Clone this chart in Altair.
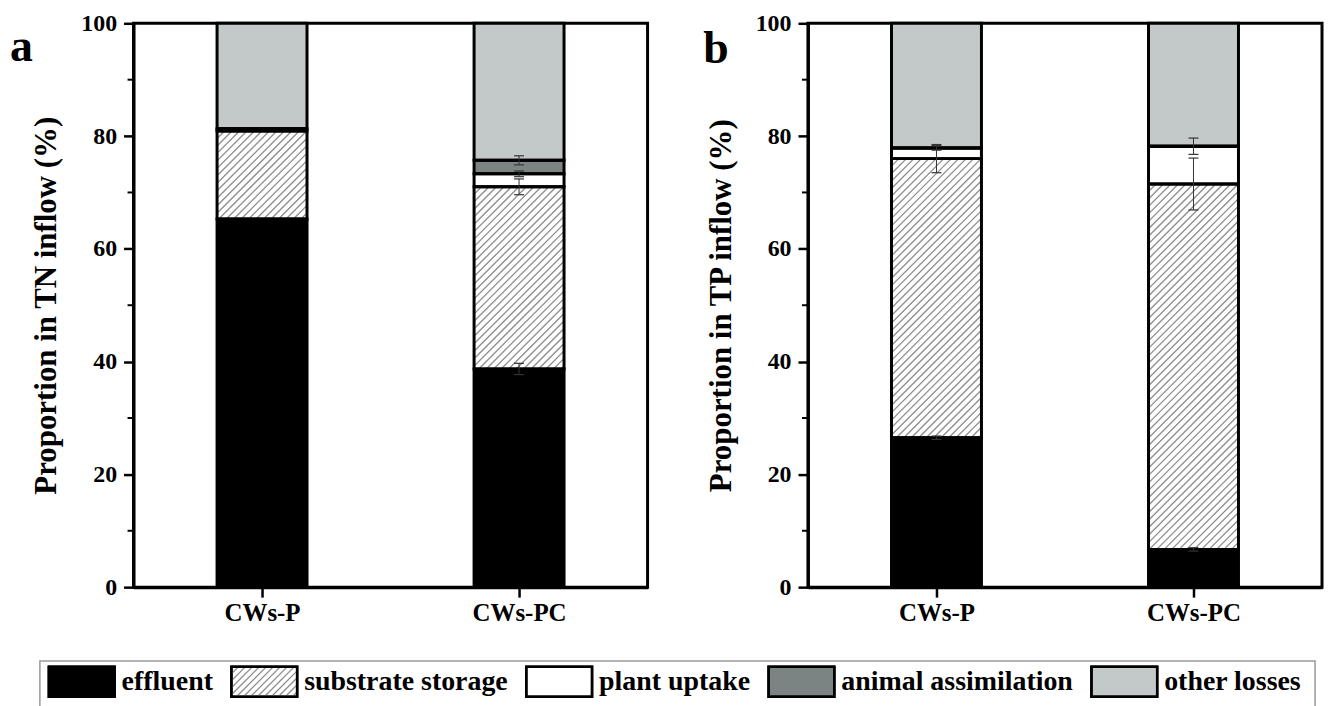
import altair as alt
import pandas as pd

categories = ["CWs-P", "CWs-PC"]
components = ["effluent", "substrate storage", "plant uptake", "animal assimilation", "other losses"]
fill_colors = ["#000000", "#ffffff", "#ffffff", "#7b8383", "#c3c9c9"]

# Panel a: proportion in TN inflow (%)
tn_effluent = [65.3, 38.7]
tn_substrate = [15.6, 32.3]
tn_plant = [0.4, 2.3]
tn_animal = [0.0, 2.4]
tn_other = [18.7, 24.3]
tn_effluent_err = [0.0, 1.0]
tn_substrate_err = [0.0, 1.4]
tn_plant_err = [0.0, 0.5]
tn_animal_err = [0.0, 0.8]

# Panel b: proportion in TP inflow (%)
tp_effluent = [26.5, 6.7]
tp_substrate = [49.5, 64.8]
tp_plant = [1.9, 6.7]
tp_animal = [0.0, 0.0]
tp_other = [22.1, 21.8]
tp_effluent_err = [0.3, 0.3]
tp_substrate_err = [2.5, 4.6]
tp_plant_err = [0.4, 1.45]
tp_animal_err = [0.0, 0.0]

y_ticks = [0, 20, 40, 60, 80, 100]
y_minor_ticks = [10, 30, 50, 70, 90]

FONT = "Liberation Serif"
W, H = 516, 566
HALF = 0.175          # half bar width in x units
PX_X = W / len(categories)
PX_Y = H / 100.0
HATCH_STEP = 7.5
CAP = 5.0 / PX_X

# ---------- legend geometry (style constants, in pixels relative to panel a's plot) ----------
LEG_W, LEG_H = 1186, 40
LEG_FONT = 28
BOX_W, BOX_H = 66, 30
BOX_TOP = 7
FRAME_X0 = -94
GAP_LABEL, GAP_ITEM, LEAD = 7, 18.5, 9
# approximate bold serif advance widths (per em) used to lay legend entries out
CHAR_W = {"a": .5, "b": .556, "c": .444, "d": .556, "e": .444, "f": .333, "g": .5, "h": .556,
          "i": .278, "k": .556, "l": .278, "m": .833, "n": .556, "o": .5, "p": .556, "r": .444,
          "s": .389, "t": .333, "u": .556, " ": .25}


def text_width(s):
    return sum(CHAR_W.get(ch, .5) for ch in s) * LEG_FONT


def stack_rows(vals):
    rows = []
    for i, cat in enumerate(categories):
        base = 0.0
        for comp, arr in zip(components, vals):
            v = arr[i]
            rows.append({"cat": cat, "comp": comp, "x0": i + 0.5 - HALF, "x1": i + 0.5 + HALF,
                         "y0": base, "y1": base + v})
            base += v
    return pd.DataFrame(rows)


def hatch_segments(x0, x1, y0, y1, sx, sy, step, y_up=True):
    """Diagonal '/' hatch lines clipped to a rectangle given in data units."""
    out = []
    w = (x1 - x0) * sx
    h = (y1 - y0) * sy
    c = -h
    while c < w:
        p0 = max(0.0, c)
        p1 = min(w, h + c)
        if p1 > p0:
            if y_up:
                out.append({"hx0": x0 + p0 / sx, "hy0": y0 + (p0 - c) / sy,
                            "hx1": x0 + p1 / sx, "hy1": y0 + (p1 - c) / sy})
            else:
                out.append({"hx0": x0 + p0 / sx, "hy0": y1 - (p0 - c) / sy,
                            "hx1": x0 + p1 / sx, "hy1": y1 - (p1 - c) / sy})
        c += step
    return out


def hatch_rows(df):
    rows = []
    for r in df[df["comp"] == "substrate storage"].itertuples():
        rows += hatch_segments(r.x0, r.x1, r.y0, r.y1, PX_X, PX_Y, HATCH_STEP)
    return pd.DataFrame(rows)


def err_rows(df, errs):
    rows = []
    for comp, arr in zip(components, errs):
        for i, cat in enumerate(categories):
            e = arr[i]
            if e > 0:
                top = df[(df["cat"] == cat) & (df["comp"] == comp)]["y1"].iloc[0]
                rows.append({"ex": i + 0.5, "lo": top - e, "hi": top + e,
                             "cx0": i + 0.5 - CAP, "cx1": i + 0.5 + CAP})
    return pd.DataFrame(rows)


x_scale = alt.Scale(domain=[0, len(categories)], nice=False, zero=False)
y_scale = alt.Scale(domain=[0, 100], nice=False, zero=True)
fill_scale = alt.Scale(domain=components, range=fill_colors)
label_expr = "datum.value < 1 ? '" + categories[0] + "' : '" + categories[1] + "'"


def panel(vals, errs, ytitle, letter, lx, ly):
    df = stack_rows(vals)
    hdf = hatch_rows(df)
    edf = err_rows(df, errs)

    x_axis = alt.Axis(values=[i + 0.5 for i in range(len(categories))], labelExpr=label_expr,
                      title=None, grid=False, tickSize=10, labelPadding=3, labelFontSize=25)
    y_axis = alt.Axis(values=y_ticks, title=ytitle, grid=False, tickSize=10,
                      labelPadding=7, titlePadding=18, labelFontSize=24)

    fills = alt.Chart(df).mark_rect(strokeWidth=0).encode(
        x=alt.X("x0:Q", scale=x_scale, axis=x_axis), x2="x1:Q",
        y=alt.Y("y0:Q", scale=y_scale, axis=y_axis), y2="y1:Q",
        fill=alt.Fill("comp:N", scale=fill_scale, legend=None),
    )
    hatch = alt.Chart(hdf).mark_rule(color="#8c8c8c", strokeWidth=1.3).encode(
        x=alt.X("hx0:Q", scale=x_scale), x2="hx1:Q",
        y=alt.Y("hy0:Q", scale=y_scale), y2="hy1:Q",
    )
    outlines = alt.Chart(df).mark_rect(fillOpacity=0, stroke="black", strokeWidth=3).encode(
        x=alt.X("x0:Q", scale=x_scale), x2="x1:Q",
        y=alt.Y("y0:Q", scale=y_scale), y2="y1:Q",
    )
    err_line = alt.Chart(edf).mark_rule(color="#333333", strokeWidth=1).encode(
        x=alt.X("ex:Q", scale=x_scale),
        y=alt.Y("lo:Q", scale=y_scale), y2="hi:Q",
    )
    cap_lo = alt.Chart(edf).mark_rule(color="#333333", strokeWidth=1.2).encode(
        x=alt.X("cx0:Q", scale=x_scale), x2="cx1:Q",
        y=alt.Y("lo:Q", scale=y_scale),
    )
    cap_hi = alt.Chart(edf).mark_rule(color="#333333", strokeWidth=1.2).encode(
        x=alt.X("cx0:Q", scale=x_scale), x2="cx1:Q",
        y=alt.Y("hi:Q", scale=y_scale),
    )
    minor = alt.Chart(pd.DataFrame({"v": y_minor_ticks})).mark_rule(color="black", strokeWidth=2).encode(
        x=alt.value(0), x2=alt.value(-6), y=alt.Y("v:Q", scale=y_scale),
    )
    letter_layer = alt.Chart(pd.DataFrame({"t": [letter]})).mark_text(
        font=FONT, fontSize=46, fontWeight="bold", align="left", baseline="alphabetic", color="black"
    ).encode(text="t:N", x=alt.value(lx), y=alt.value(ly))

    return alt.layer(fills, hatch, outlines, err_line, cap_lo, cap_hi, minor, letter_layer).properties(
        width=W, height=H)


# ---------- hand-built legend (boxes + labels) ----------
leg_rows = []
cursor = FRAME_X0 + LEAD
for comp, col in zip(components, fill_colors):
    leg_rows.append({"comp": comp, "col": col, "bx0": cursor, "bx1": cursor + BOX_W,
                     "by0": BOX_TOP, "by1": BOX_TOP + BOX_H,
                     "tx": cursor + BOX_W + GAP_LABEL, "ty": BOX_TOP + BOX_H / 2})
    cursor += BOX_W + GAP_LABEL + text_width(comp) + GAP_ITEM
leg_df = pd.DataFrame(leg_rows)
frame_df = pd.DataFrame([{"fx0": FRAME_X0, "fx1": LEG_W, "fy0": 1, "fy1": LEG_H + 20}])
hb = leg_df[leg_df["comp"] == "substrate storage"].iloc[0]
leg_hatch_df = pd.DataFrame(hatch_segments(hb.bx0, hb.bx1, hb.by0, hb.by1, 1.0, 1.0, 7.0, y_up=False))

lx_scale = alt.Scale(domain=[0, LEG_W], nice=False, zero=False)
ly_scale = alt.Scale(domain=[0, LEG_H], nice=False, zero=False, reverse=True)

leg_frame = alt.Chart(frame_df).mark_rect(fill="white", stroke="#9a9a9a", strokeWidth=1.5).encode(
    x=alt.X("fx0:Q", scale=lx_scale, axis=None), x2="fx1:Q",
    y=alt.Y("fy0:Q", scale=ly_scale, axis=None), y2="fy1:Q",
)
leg_boxes = alt.Chart(leg_df).mark_rect(stroke="black", strokeWidth=2.5).encode(
    x=alt.X("bx0:Q", scale=lx_scale, axis=None), x2="bx1:Q",
    y=alt.Y("by0:Q", scale=ly_scale, axis=None), y2="by1:Q",
    fill=alt.Fill("col:N", scale=None, legend=None),
)
leg_hatch = alt.Chart(leg_hatch_df).mark_rule(color="#8c8c8c", strokeWidth=1.3).encode(
    x=alt.X("hx0:Q", scale=lx_scale, axis=None), x2="hx1:Q",
    y=alt.Y("hy0:Q", scale=ly_scale, axis=None), y2="hy1:Q",
)
leg_box_edges = alt.Chart(leg_df).mark_rect(fillOpacity=0, stroke="black", strokeWidth=2.5).encode(
    x=alt.X("bx0:Q", scale=lx_scale, axis=None), x2="bx1:Q",
    y=alt.Y("by0:Q", scale=ly_scale, axis=None), y2="by1:Q",
)
leg_text = alt.Chart(leg_df).mark_text(
    font=FONT, fontSize=LEG_FONT, fontWeight="bold", align="left", baseline="middle", color="black"
).encode(
    x=alt.X("tx:Q", scale=lx_scale, axis=None),
    y=alt.Y("ty:Q", scale=ly_scale, axis=None),
    text="comp:N",
)
legend_chart = alt.layer(leg_frame, leg_boxes, leg_hatch, leg_box_edges, leg_text).properties(
    width=LEG_W, height=LEG_H, view=alt.ViewBackground(stroke="transparent")
)

panel_a = panel([tn_effluent, tn_substrate, tn_plant, tn_animal, tn_other],
                [tn_effluent_err, tn_substrate_err, tn_plant_err, tn_animal_err, [0, 0]],
                "Proportion in TN inflow (%)", "a", -124, 38)
panel_b = panel([tp_effluent, tp_substrate, tp_plant, tp_animal, tp_other],
                [tp_effluent_err, tp_substrate_err, tp_plant_err, tp_animal_err, [0, 0]],
                "Proportion in TP inflow (%)", "b", -105, 40)

top_row = alt.hconcat(panel_a, panel_b, spacing=52)
chart = alt.vconcat(top_row, legend_chart, spacing=31).properties(
    padding={"left": 0, "top": 0, "right": 0, "bottom": 0}
).configure_view(
    stroke="black", strokeWidth=3
).configure_axis(
    domainColor="black", domainWidth=3, tickColor="black", tickWidth=2.5,
    labelFont=FONT, labelFontSize=24, labelFontWeight="bold", labelColor="black",
    titleFont=FONT, titleFontSize=31, titleFontWeight="bold", titleColor="black",
)

chart.save("out.html", embed_options={"renderer": "svg", "actions": False})
